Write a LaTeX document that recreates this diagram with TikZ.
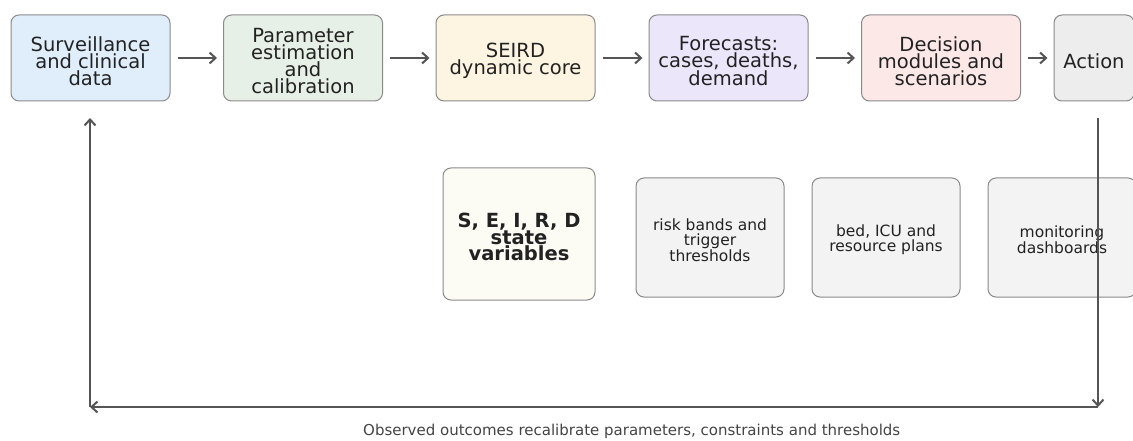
\documentclass[tikz,border=0pt]{standalone}
\usepackage{fontspec}
\setmainfont{DejaVu Sans}
\usetikzlibrary{arrows.meta}
\definecolor{linegrey}{HTML}{555555}
\definecolor{edgegrey}{HTML}{8A8A8A}
\definecolor{textdark}{HTML}{222222}
\definecolor{captiongrey}{HTML}{444444}
\definecolor{fsurv}{HTML}{E0EEFC}
\definecolor{fparam}{HTML}{E7F0E6}
\definecolor{fcore}{HTML}{FDF5E1}
\definecolor{ffore}{HTML}{ECE6FB}
\definecolor{fdec}{HTML}{FDE8E8}
\definecolor{fact}{HTML}{EDEDED}
\definecolor{fstate}{HTML}{FCFCF5}
\definecolor{fsub}{HTML}{F3F3F3}
\tikzset{
  stagebox/.style={draw=edgegrey, line width=1pt, rounded corners=8pt, text=textdark,
    minimum width=159pt, minimum height=86pt, align=center, inner sep=0pt,
    font=\fontsize{19.5}{17}\selectfont},
  stagelabel/.style={stagebox, draw=none, fill=none, minimum width=0pt, minimum height=0pt},
  subbox/.style={draw=edgegrey, line width=1pt, rounded corners=8pt, text=textdark,
    fill=fsub, minimum width=148pt, minimum height=119pt, align=center, inner sep=0pt,
    font=\fontsize{15.5}{15}\selectfont},
  sublabel/.style={subbox, draw=none, fill=none, minimum width=0pt, minimum height=0pt},
  statelabel/.style={sublabel, font=\fontsize{19.5}{16.5}\selectfont\bfseries},
  flow/.style={draw=linegrey, line width=2pt, -{Straight Barb[length=6pt,width=11pt,line width=2pt]}},
}
\begin{document}
\begin{tikzpicture}[x=1pt,y=-1pt]
\useasboundingbox (0,0) rectangle (1133,441);
\clip (0,0) rectangle (1133,441);
% main pipeline
\node[stagebox, fill=fsurv]  (surv)  at (90.5,58)  {};
\node[stagebox, fill=fparam] (param) at (303,58)   {};
\node[stagebox, fill=fcore]  (core)  at (515.5,58) {};
\node[stagebox, fill=ffore]  (fore)  at (728.5,58) {};
\node[stagebox, fill=fdec]   (dec)   at (941,58)   {};
\node[stagebox, fill=fact, minimum width=80pt] (act) at (1094,58) {};
% stage labels, set slightly below the box centres
\node[stagelabel] (survtext)  at ([yshift=-3pt]surv.center)  {Surveillance\\and clinical\\data};
\node[stagelabel] (paramtext) at ([yshift=-3pt]param.center) {Parameter\\estimation\\and\\calibration};
\node[stagelabel] (coretext)  at ([yshift=-3pt]core.center)  {SEIRD\\dynamic core};
\node[stagelabel] (foretext)  at ([yshift=-3pt]fore.center)  {Forecasts:\\cases, deaths,\\demand};
\node[stagelabel] (dectext)   at ([yshift=-3pt]dec.center)   {Decision\\modules and\\scenarios};
\node[stagelabel] (acttext)   at ([yshift=-3pt]act.center)   {Action};
% detail boxes
\node[subbox, fill=fstate, minimum width=152pt, minimum height=132pt] (state) at (519,234) {};
\node[subbox] (risk) at (710,237.5)  {};
\node[subbox] (bed)  at (886,237.5)  {};
\node[subbox] (mon)  at (1062,237.5) {};
\node[statelabel] (statetext) at ([yshift=-3pt]state.center) {S, E, I, R, D\\state\\variables};
\node[sublabel] (risktext) at ([yshift=-3pt]risk.center) {risk bands and\\trigger\\thresholds};
\node[sublabel] (bedtext)  at ([yshift=-2pt]bed.center)  {bed, ICU and\\resource plans};
\node[sublabel] (montext)  at ([yshift=-2pt]mon.center)  {monitoring\\dashboards};
% forward arrows
\draw[flow] (surv.east)  ++(7,0) -- ([xshift=-6pt]param.west);
\draw[flow] (param.east) ++(7,0) -- ([xshift=-6pt]core.west);
\draw[flow] (core.east)  ++(7,0) -- ([xshift=-6pt]fore.west);
\draw[flow] (fore.east)  ++(7,0) -- ([xshift=-6pt]dec.west);
\draw[flow] (dec.east)   ++(7,0) -- ([xshift=-6pt]act.west);
% feedback loop
\coordinate (fbtop)   at (1098,118);
\coordinate (fbright) at (1098,407);
\coordinate (fbleft)  at (90,407);
\coordinate (fbend)   at (90,118);
\draw[flow] (fbtop) -- (fbright);
\draw[flow] (fbright) -- (fbleft);
\draw[flow] (fbleft) -- (fbend);
\node[text=captiongrey, font=\fontsize{15}{16}\selectfont, anchor=west, inner sep=0pt] (caption) at (363,431)
  {Observed outcomes recalibrate parameters, constraints and thresholds};
\end{tikzpicture}
\end{document}
